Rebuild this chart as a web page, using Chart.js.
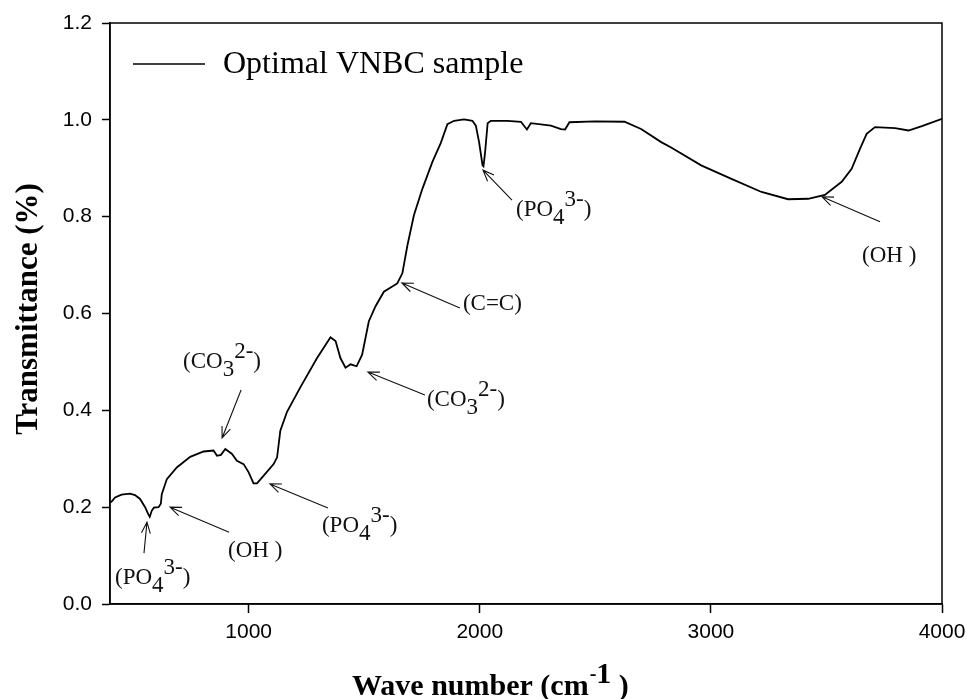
<!DOCTYPE html>
<html>
<head>
<meta charset="utf-8">
<script src="https://cdn.jsdelivr.net/npm/chart.js@4.4.1/dist/chart.umd.min.js"></script>
<style>
  html, body { margin: 0; padding: 0; background: #fff; }
</style>
</head>
<body>
<canvas id="ftirChart" width="966" height="699"></canvas>
<script>
// FTIR spectrum
const waveNumbers = [
  404, 422, 450, 487, 508, 530, 552, 565, 572, 581, 590, 610, 620, 624, 646, 689,
  747, 805, 848, 863, 880, 899, 928, 949, 978, 1000, 1021, 1036, 1065, 1108, 1123,
  1137, 1166, 1224, 1296, 1354, 1376, 1397, 1419, 1441, 1467, 1491, 1520, 1549,
  1585, 1643, 1665, 1687, 1715, 1752, 1795, 1831, 1860, 1889, 1932, 1968, 1983,
  1997, 2012, 2016, 2023, 2034, 2048, 2120, 2178, 2204, 2221, 2308, 2351, 2369,
  2388, 2500, 2626, 2698, 2785, 2828, 2958, 3089, 3219, 3334, 3421, 3493, 3566,
  3609, 3645, 3674, 3710, 3797, 3855, 3913, 4000
];
const transmittance = [
  0.210, 0.220, 0.226, 0.228, 0.225, 0.217, 0.200, 0.186, 0.180, 0.193, 0.199, 0.200, 0.207, 0.227, 0.258, 0.282,
  0.304, 0.315, 0.317, 0.306, 0.308, 0.320, 0.310, 0.296, 0.289, 0.272, 0.249, 0.249, 0.265, 0.289, 0.303,
  0.358, 0.397, 0.448, 0.508, 0.551, 0.543, 0.508, 0.488, 0.495, 0.491, 0.515, 0.584, 0.615,
  0.645, 0.662, 0.683, 0.741, 0.803, 0.858, 0.913, 0.952, 0.991, 0.998, 1.001, 0.998, 0.988,
  0.954, 0.906, 0.904, 0.933, 0.993, 0.998, 0.998, 0.996, 0.980, 0.993, 0.988, 0.981, 0.980,
  0.995, 0.997, 0.996, 0.981, 0.954, 0.943, 0.906, 0.878, 0.851, 0.836, 0.837, 0.845, 0.872,
  0.899, 0.940, 0.971, 0.985, 0.983, 0.978, 0.987, 1.002
];
const xTickValues = [1000, 2000, 3000, 4000];
const yTickValues = [0, 0.2, 0.4, 0.6, 0.8, 1.0, 1.2];
const seriesLabel = 'Optimal VNBC sample';

// band assignments: arrow points at [wn, T]; tail and text are pixel offsets from there
// text parts: [string, shift] where 1 = subscript, -1 = superscript
const bands = [
  { at: [560, 0.169], tail: [-3, 31], text: [-32, 62], parts: [['(PO', 0], ['4', 1], ['3-', -1], [')', 0]] },
  { at: [660, 0.200], tail: [59, 25], text: [58, 50], parts: [['(OH )', 0]] },
  { at: [1092, 0.248], tail: [58, 24], text: [52, 48], parts: [['(PO', 0], ['4', 1], ['3-', -1], [')', 0]] },
  { at: [885, 0.343], tail: [19, -48], text: [-39, -70], parts: [['(CO', 0], ['3', 1], ['2-', -1], [')', 0]] },
  { at: [1516, 0.479], tail: [57, 23], text: [59, 34], parts: [['(CO', 0], ['3', 1], ['2-', -1], [')', 0]] },
  { at: [1663, 0.663], tail: [58, 25], text: [61, 27], parts: [['(C=C)', 0]] },
  { at: [2014, 0.896], tail: [29, 30], text: [33, 46], parts: [['(PO', 0], ['4', 1], ['3-', -1], [')', 0]] },
  { at: [3481, 0.841], tail: [58, 25], text: [40, 65], parts: [['(OH )', 0]] }
];

const points = waveNumbers.map((w, i) => ({ x: w, y: transmittance[i] }));

function drawParts(ctx, parts, x, y, font, size) {
  ctx.font = size + 'px ' + font;
  ctx.textBaseline = 'alphabetic';
  ctx.textAlign = 'left';
  parts.forEach(p => {
    const dy = p[1] === 1 ? size * 0.34 : (p[1] === -1 ? -size * 0.45 : 0);
    ctx.fillText(p[0], x, y + dy);
    x += ctx.measureText(p[0]).width;
  });
  return x;
}

function arrow(ctx, x1, y1, x2, y2) {
  const a = Math.atan2(y2 - y1, x2 - x1);
  const len = 12, spread = 0.38;
  ctx.beginPath();
  ctx.moveTo(x1, y1);
  ctx.lineTo(x2, y2);
  ctx.moveTo(x2 - len * Math.cos(a - spread), y2 - len * Math.sin(a - spread));
  ctx.lineTo(x2, y2);
  ctx.lineTo(x2 - len * Math.cos(a + spread), y2 - len * Math.sin(a + spread));
  ctx.stroke();
}

const decorations = {
  id: 'decorations',
  afterDraw(chart) {
    const ctx = chart.ctx;
    const area = chart.chartArea;
    const xs = chart.scales.x, ys = chart.scales.y;
    ctx.save();

    // frame
    ctx.strokeStyle = '#000';
    ctx.lineWidth = 1.5;
    ctx.strokeRect(area.left, area.top, area.right - area.left, area.bottom - area.top);

    // legend
    ctx.lineWidth = 1.5;
    ctx.beginPath();
    ctx.moveTo(area.left + 23, area.top + 41);
    ctx.lineTo(area.left + 95, area.top + 41);
    ctx.stroke();
    ctx.fillStyle = '#000';
    ctx.font = '32px "Liberation Serif"';
    ctx.textBaseline = 'middle';
    ctx.fillText(seriesLabel, area.left + 113, area.top + 42);

    // band labels
    ctx.lineWidth = 1.1;
    ctx.strokeStyle = '#111';
    ctx.fillStyle = '#111';
    bands.forEach(b => {
      const hx = xs.getPixelForValue(b.at[0]);
      const hy = ys.getPixelForValue(b.at[1]);
      arrow(ctx, hx + b.tail[0], hy + b.tail[1], hx, hy);
      drawParts(ctx, b.parts, hx + b.text[0], hy + b.text[1], '"Liberation Serif"', 23);
    });

    // axis titles
    ctx.fillStyle = '#000';
    ctx.save();
    ctx.translate(37, 309);
    ctx.rotate(-Math.PI / 2);
    ctx.font = 'bold 31px "Liberation Serif"';
    ctx.textAlign = 'center';
    ctx.textBaseline = 'alphabetic';
    ctx.fillText('Transmittance (%)', 0, 0);
    ctx.restore();

    ctx.font = 'bold 30px "Liberation Serif"';
    ctx.textAlign = 'left';
    ctx.textBaseline = 'alphabetic';
    let tx = 352;
    ctx.fillText('Wave number (cm', tx, 695);
    tx += ctx.measureText('Wave number (cm').width;
    ctx.font = 'bold 20px "Liberation Serif"';
    ctx.fillText('-', tx + 1, 680);
    tx += ctx.measureText('-').width + 1;
    ctx.font = 'bold 30px "Liberation Serif"';
    ctx.fillText('1', tx, 683);
    tx += ctx.measureText('1 ').width;
    ctx.fillText(')', tx, 695);

    ctx.restore();
  }
};

new Chart(document.getElementById('ftirChart').getContext('2d'), {
  type: 'line',
  data: {
    datasets: [{
      label: seriesLabel,
      data: points,
      borderColor: '#000',
      borderWidth: 1.8,
      pointRadius: 0,
      tension: 0,
      fill: false
    }]
  },
  options: {
    responsive: false,
    animation: false,
    layout: { padding: { top: 23, right: 24, left: 0, bottom: 0 } },
    plugins: { legend: { display: false }, tooltip: { enabled: false } },
    scales: {
      x: {
        type: 'linear',
        min: 400,
        max: 4000,
        afterBuildTicks: s => { s.ticks = xTickValues.map(v => ({ value: v })); },
        afterFit: s => { s.height = 95; s.paddingLeft = 0; s.paddingRight = 0; },
        ticks: { color: '#000', padding: 7, maxRotation: 0, callback: v => String(v), font: { family: 'Liberation Sans', size: 21 } },
        grid: { drawOnChartArea: false, drawTicks: true, tickLength: 9, tickColor: '#000', tickWidth: 1.5 },
        border: { display: true, color: '#000', width: 1.5 }
      },
      y: {
        min: 0,
        max: 1.2,
        afterBuildTicks: s => { s.ticks = yTickValues.map(v => ({ value: v })); },
        afterFit: s => { s.width = 110; s.paddingTop = 0; s.paddingBottom = 0; },
        ticks: { color: '#000', padding: 10, callback: v => v.toFixed(1), font: { family: 'Liberation Sans', size: 21 } },
        grid: { drawOnChartArea: false, drawTicks: true, tickLength: 8, tickColor: '#000', tickWidth: 1.5 },
        border: { display: true, color: '#000', width: 1.5 }
      }
    }
  },
  plugins: [decorations]
});
</script>
</body>
</html>
